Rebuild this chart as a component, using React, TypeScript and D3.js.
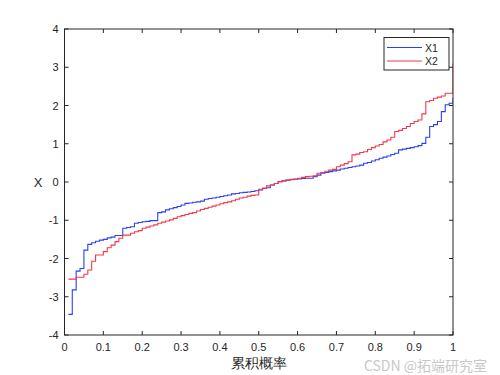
import React from "react";
import * as d3 from "d3";

const seriesNames = ["X1", "X2"];
const xTicks = [0, 0.1, 0.2, 0.3, 0.4, 0.5, 0.6, 0.7, 0.8, 0.9, 1];
const yTicks = [-4, -3, -2, -1, 0, 1, 2, 3, 4];
const xLabel = "累积概率";
const yLabel = "X";
const watermark = "CSDN @拓端研究室";

// probability steps i/100 for i = 1..100
const probs = d3.range(1, 101).map((i) => i / 100);

const x1Values = [
  -3.46, -2.82, -2.33, -2.26, -1.78, -1.63, -1.59, -1.55, -1.52, -1.5,
  -1.46, -1.44, -1.4, -1.4, -1.21, -1.19, -1.17, -1.08, -1.06, -1.04,
  -1.03, -1.01, -1.01, -0.8, -0.78, -0.73, -0.7, -0.67, -0.64, -0.6,
  -0.56, -0.55, -0.53, -0.52, -0.5, -0.45, -0.43, -0.42, -0.4, -0.38,
  -0.36, -0.34, -0.31, -0.3, -0.28, -0.27, -0.26, -0.25, -0.23, -0.21,
  -0.17, -0.15, -0.08, -0.04, 0.01, 0.03, 0.05, 0.06, 0.07, 0.08,
  0.09, 0.1, 0.1, 0.14, 0.18, 0.23, 0.25, 0.27, 0.29, 0.31,
  0.34, 0.36, 0.38, 0.4, 0.42, 0.44, 0.49, 0.51, 0.55, 0.58,
  0.62, 0.65, 0.68, 0.72, 0.75, 0.84, 0.86, 0.88, 0.9, 0.92,
  0.95, 1.01, 1.17, 1.45, 1.5, 1.58, 1.84, 2.02, 2.06, 2.2,
];

const x2Values = [
  -2.54, -2.54, -2.49, -2.49, -2.41, -2.3, -2.07, -1.91, -1.91, -1.82,
  -1.72, -1.65, -1.56, -1.47, -1.39, -1.39, -1.34, -1.3, -1.27, -1.21,
  -1.18, -1.15, -1.12, -1.08, -1.05, -1.02, -0.99, -0.95, -0.91, -0.88,
  -0.85, -0.82, -0.8, -0.76, -0.72, -0.69, -0.66, -0.63, -0.6, -0.57,
  -0.54, -0.52, -0.49, -0.45, -0.42, -0.4, -0.37, -0.35, -0.34, -0.19,
  -0.16, -0.1, -0.08, -0.04, 0.01, 0.03, 0.05, 0.07, 0.08, 0.1,
  0.12, 0.14, 0.15, 0.16, 0.23, 0.25, 0.28, 0.31, 0.33, 0.4,
  0.44, 0.48, 0.53, 0.71, 0.73, 0.77, 0.79, 0.85, 0.9, 0.94,
  0.98, 1.05, 1.1, 1.17, 1.32, 1.35, 1.4, 1.45, 1.53, 1.58,
  1.62, 1.78, 2.1, 2.13, 2.19, 2.22, 2.25, 2.32, 2.32, 3.1,
];

const colors = ["#2a40f2", "#f23a4a"];

export default function App() {
  const W = 500;
  const H = 375;
  const left = 64.5;
  const right = 453;
  const top = 29;
  const bottom = 335;
  const x = d3.scaleLinear().domain([0, 1]).range([left, right]);
  const y = d3.scaleLinear().domain([-4, 4]).range([bottom, top]);
  const line = d3
    .line<[number, number]>()
    .x((d) => x(d[0]))
    .y((d) => y(d[1]))
    .curve(d3.curveStepAfter);
  const series = [x1Values, x2Values].map((vals) =>
    probs.map((p, i) => [p, vals[i]] as [number, number])
  );
  const font = "Arial, 'Liberation Sans', Helvetica, sans-serif";
  const tk = 4;
  const axisColor = "#262626";

  return (
    <svg
      width={W}
      height={H}
      style={{ position: "absolute", left: 0, top: 0, background: "#fff" }}
      fontFamily={font}
    >
      <rect x={0} y={0} width={W} height={H} fill="#fff" />
      <defs>
        <clipPath id="plotclip">
          <rect x={left} y={top} width={right - left} height={bottom - top} />
        </clipPath>
      </defs>
      <g clipPath="url(#plotclip)">
        {series.map((s, i) => (
          <path
            key={i}
            d={line(s) || ""}
            fill="none"
            stroke={colors[i]}
            strokeWidth={1.1}
          />
        ))}
      </g>
      <rect
        x={left}
        y={top}
        width={right - left}
        height={bottom - top}
        fill="none"
        stroke={axisColor}
        strokeWidth={1}
      />
      {xTicks.map((t) => (
        <g key={"x" + t}>
          <line x1={x(t)} x2={x(t)} y1={bottom} y2={bottom - tk} stroke={axisColor} />
          <line x1={x(t)} x2={x(t)} y1={top} y2={top + tk} stroke={axisColor} />
          <text
            x={x(t)}
            y={bottom + 16}
            textAnchor="middle"
            fontSize={11}
            fill={axisColor}
          >
            {t}
          </text>
        </g>
      ))}
      {yTicks.map((t) => (
        <g key={"y" + t}>
          <line x1={left} x2={left + tk} y1={y(t)} y2={y(t)} stroke={axisColor} />
          <line x1={right} x2={right - tk} y1={y(t)} y2={y(t)} stroke={axisColor} />
          <text
            x={left - 6}
            y={y(t) + 4}
            textAnchor="end"
            fontSize={11}
            fill={axisColor}
          >
            {t}
          </text>
        </g>
      ))}
      <text
        x={(left + right) / 2}
        y={368}
        textAnchor="middle"
        fontSize={13.5}
        fill={axisColor}
      >
        {xLabel}
      </text>
      <text
        x={38}
        y={y(0) + 5}
        textAnchor="middle"
        fontSize={13}
        fill={axisColor}
      >
        {yLabel}
      </text>
      <g>
        <rect x={384} y={37.5} width={65} height={32.5} fill="#fff" stroke={axisColor} strokeWidth={1} />
        {seriesNames.map((n, i) => (
          <g key={n}>
            <line
              x1={387}
              x2={422}
              y1={47.5 + i * 13.5}
              y2={47.5 + i * 13.5}
              stroke={colors[i]}
              strokeWidth={1.1}
            />
            <text x={425} y={47.5 + i * 13.5 + 4} fontSize={10.5} fill={axisColor}>
              {n}
            </text>
          </g>
        ))}
      </g>
      <text
        x={487}
        y={371}
        textAnchor="end"
        fontSize={14}
        fill="#c8c8c8"
        fontFamily="'Noto Sans CJK SC', 'Noto Sans', sans-serif"
      >
        {watermark}
      </text>
    </svg>
  );
}
